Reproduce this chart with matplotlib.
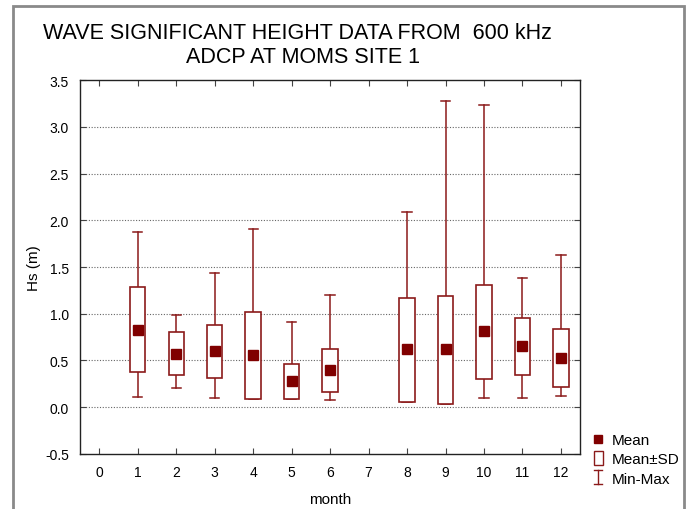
import matplotlib.pyplot as plt
from matplotlib.lines import Line2D
from matplotlib.patches import Rectangle
from matplotlib.legend_handler import HandlerBase

plt.rcParams["font.family"] = ["Liberation Sans", "DejaVu Sans"]

# ── Data ──────────────────────────────────────────────────────────────────────
months = [1, 2, 3, 4, 5, 6, 8, 9, 10, 11, 12]
mean   = [0.83, 0.57, 0.60, 0.56, 0.28, 0.40, 0.62, 0.62, 0.81, 0.65, 0.53]
sd_lo  = [0.375, 0.345, 0.31, 0.09, 0.09, 0.16, 0.06, 0.03, 0.30, 0.345, 0.22]
sd_hi  = [1.29, 0.80, 0.88, 1.02, 0.46, 0.62, 1.17, 1.19, 1.31, 0.95, 0.84]
hs_min = [0.11, 0.21, 0.10, 0.09, 0.09, 0.08, 0.06, 0.03, 0.10, 0.10, 0.12]
hs_max = [1.87, 0.99, 1.44, 1.91, 0.91, 1.20, 2.09, 3.28, 3.23, 1.38, 1.63]

RED = "#8b1a1a"
BOXW = 0.40
CAPW = 0.24

fig = plt.figure(figsize=(6.88, 5.10), dpi=100)
ax = fig.add_axes([0.1163, 0.108, 0.727, 0.733])

for m, mu, lo, hi, mn, mx in zip(months, mean, sd_lo, sd_hi, hs_min, hs_max):
    # whiskers
    ax.plot([m, m], [hi, mx], color=RED, lw=1.1, zorder=2)
    ax.plot([m, m], [mn, lo], color=RED, lw=1.1, zorder=2)
    ax.plot([m - CAPW / 2, m + CAPW / 2], [mx, mx], color=RED, lw=1.1, zorder=2)
    ax.plot([m - CAPW / 2, m + CAPW / 2], [mn, mn], color=RED, lw=1.1, zorder=2)
    # mean +- SD box
    ax.add_patch(Rectangle((m - BOXW / 2, lo), BOXW, hi - lo, facecolor="white",
                           edgecolor=RED, lw=1.2, zorder=3))
ax.plot(months, mean, ls="none", marker="s", ms=7, color="#800000", zorder=4)

ax.set_xlim(-0.5, 12.5)
ax.set_ylim(-0.5, 3.5)
ax.set_xticks(range(0, 13))
ax.set_yticks([-0.5, 0, 0.5, 1, 1.5, 2, 2.5, 3, 3.5])
ax.set_yticklabels(["-0.5", "0.0", "0.5", "1.0", "1.5", "2.0", "2.5", "3.0", "3.5"])
ax.tick_params(direction="in", top=True, right=True, length=4, width=0.8,
               labelsize=10, pad=8, color="#444444")
for y in [0, 0.5, 1, 1.5, 2, 2.5, 3]:
    ax.axhline(y, color="#666666", lw=0.8, ls=(0, (1, 1.5)), zorder=1)
for s in ax.spines.values():
    s.set_color("#222222")
    s.set_linewidth(1.0)

ax.set_xlabel("month", fontsize=11, labelpad=9)
ax.set_ylabel("Hs (m)", fontsize=11, labelpad=3)

fig.text(0.432, 0.935, "WAVE SIGNIFICANT HEIGHT DATA FROM  600 kHz",
         ha="center", va="center", fontsize=15.5)
fig.text(0.44, 0.888, "ADCP AT MOMS SITE 1", ha="center", va="center", fontsize=15.5)


# ── Legend ────────────────────────────────────────────────────────────────────
class BoxHandler(HandlerBase):
    def create_artists(self, legend, orig, x0, y0, w, h, fontsize, trans):
        r = Rectangle((x0 + w * 0.2, y0 - h * 0.15), w * 0.6, h * 1.3,
                      facecolor="white", edgecolor=RED, lw=1.0, transform=trans)
        return [r]


class MinMaxHandler(HandlerBase):
    def create_artists(self, legend, orig, x0, y0, w, h, fontsize, trans):
        cx = x0 + w / 2
        top, bot = y0 + h * 1.15, y0 - h * 0.15
        a = Line2D([cx, cx], [bot, top], color=RED, lw=1.0, transform=trans)
        b = Line2D([cx - w * 0.25, cx + w * 0.25], [top, top], color=RED, lw=1.0, transform=trans)
        c = Line2D([cx - w * 0.25, cx + w * 0.25], [bot, bot], color=RED, lw=1.0, transform=trans)
        return [a, b, c]


h_mean = Line2D([], [], ls="none", marker="s", ms=6, color="#800000")
h_box = Rectangle((0, 0), 1, 1)
h_mm = Line2D([], [])
fig.legend([h_mean, h_box, h_mm], ["Mean", "Mean±SD", "Min-Max"],
           handler_map={h_box: BoxHandler(), h_mm: MinMaxHandler()},
           loc="upper left", bbox_to_anchor=(0.843, 0.17), frameon=False,
           fontsize=11, handlelength=1.0, handletextpad=0.4, labelspacing=0.35,
           borderpad=0.2)

# outer frame
fig.add_artist(Rectangle((13 / 688, -0.05), 671 / 688, 1.05 - 7 / 510, transform=fig.transFigure,
                         fill=False, edgecolor="#8a8a8a", lw=2.0))

fig.savefig("out.png", dpi=100)
